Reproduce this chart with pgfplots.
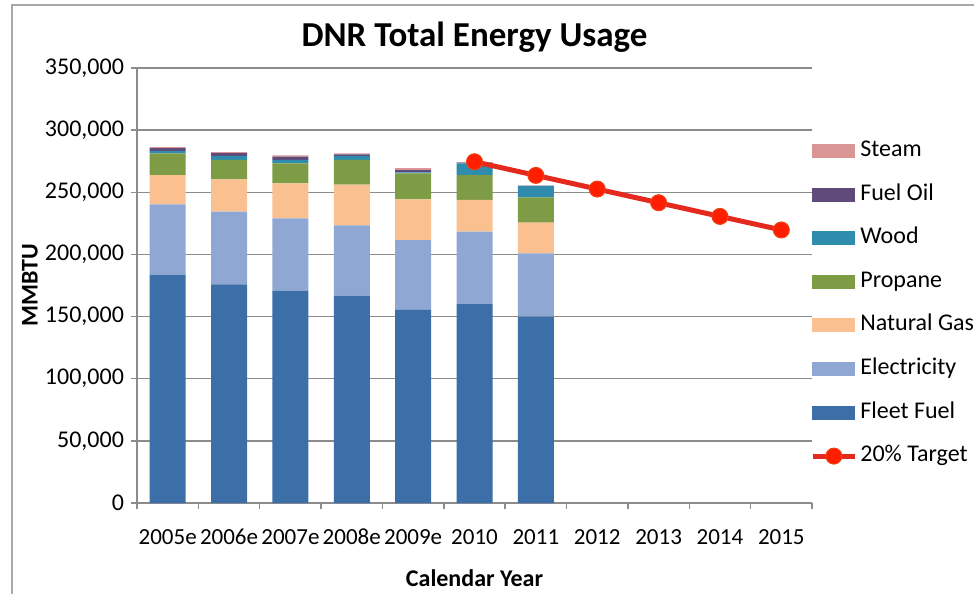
\documentclass[border=0pt]{standalone}
\usepackage{fontspec}
\setmainfont{Carlito}
\usepackage{pgfplots}
\pgfplotsset{compat=1.18}
\definecolor{fleet}{HTML}{3C6EA8}
\definecolor{elec}{HTML}{8FA7D3}
\definecolor{natgas}{HTML}{FAC090}
\definecolor{propane}{HTML}{7E9B45}
\definecolor{wood}{HTML}{2F8CAC}
\definecolor{fueloil}{HTML}{604A7B}
\definecolor{steam}{HTML}{D99694}
\definecolor{tline}{HTML}{E42A1E}
\definecolor{tmark}{HTML}{FF1E00}
\definecolor{gridgray}{HTML}{8C8C8C}
\definecolor{framegray}{HTML}{A8A8A8}
\begin{document}
\begin{tikzpicture}
\path[use as bounding box] (-68.5pt,-45.5pt) rectangle (418.5pt,251.5pt);
\draw[line width=1.2pt, framegray] (-62.5pt,-60pt) -- (-62.5pt,249pt) -- (440pt,249pt);
\begin{axis}[
  at={(0,0)}, anchor=south west,
  scale only axis, width=337.5pt, height=217.5pt,
  xmin=-0.5, xmax=10.5, ymin=0, ymax=350000,
  ybar stacked, bar width=18pt,
  axis x line*=bottom, axis y line*=left,
  axis line style={gridgray, line width=0.75pt, -},
  ymajorgrids, grid style={gridgray, line width=0.75pt},
  tick align=outside, major tick length=3pt,
  tick style={gridgray, line width=0.75pt},
  ytick={0,50000,100000,150000,200000,250000,300000,350000},
  scaled y ticks=false,
  /pgf/number format/.cd, fixed, 1000 sep={,}, assume math mode=true,
  /pgfplots/.cd,
  yticklabel style={font=\fontsize{12}{14}\selectfont, black},
  xtick={-0.5,0.5,...,10.5},
  xticklabels={,,,,,,,,,,,},
  extra x ticks={0,1,2,3,4,5,6,7,8,9,10},
  extra x tick labels={2005e,2006e,2007e,2008e,2009e,2010,2011,2012,2013,2014,2015},
  extra x tick style={major tick length=0pt, grid=none,
     xticklabel style={font=\fontsize{11.5}{14}\selectfont, black, text height=8pt, text depth=0pt, yshift=-9pt}},
  title={DNR Total Energy Usage},
  title style={font=\bfseries\fontsize{17.5}{20}\selectfont, at={(0.5,1)}, anchor=center, yshift=9.5pt},
  ylabel={MMBTU},
  ylabel style={font=\bfseries\fontsize{12}{14}\selectfont, at={(axis description cs:-0.1585,0.5)}, anchor=center, rotate=0},
  xlabel={Calendar Year},
  xlabel style={font=\bfseries\fontsize{12}{14}\selectfont, at={(axis description cs:0.5,-0.1724)}, anchor=center},
]
\addplot[fill=fleet, draw=none] coordinates {(0,183400) (1,176000) (2,170800) (3,166800) (4,155300) (5,160100) (6,149900)};
\addplot[fill=elec, draw=none] coordinates {(0,56900) (1,58400) (2,58200) (3,56600) (4,56300) (5,58200) (6,51000)};
\addplot[fill=natgas, draw=none] coordinates {(0,23600) (1,26000) (2,28200) (3,32700) (4,32700) (5,25500) (6,24600)};
\addplot[fill=propane, draw=none] coordinates {(0,17400) (1,15600) (2,16100) (3,19900) (4,20900) (5,20100) (6,20400)};
\addplot[fill=wood, draw=none] coordinates {(0,2100) (1,3200) (2,2700) (3,3200) (4,800) (5,9400) (6,9100)};
\addplot[fill=fueloil, draw=none] coordinates {(0,2200) (1,2400) (2,2600) (3,1400) (4,1900) (5,500) (6,400)};
\addplot[fill=steam, draw=none] coordinates {(0,800) (1,800) (2,1100) (3,700) (4,1600) (5,500) (6,0)};
\end{axis}
\begin{axis}[
  at={(0,0)}, anchor=south west,
  scale only axis, width=337.5pt, height=217.5pt,
  xmin=-0.5, xmax=10.5, ymin=0, ymax=350000,
  hide axis,
  legend cell align=left,
  legend style={at={(0.997,0.4586)}, anchor=west, draw=none, fill=none,
    font=\fontsize{12}{14}\selectfont, inner sep=0pt, row sep=8.3pt,
    nodes={inner sep=1.5pt, text height=8pt, text depth=2.5pt}},
]
\addlegendimage{legend image code/.code={\fill[steam] (0pt,-3.25pt) rectangle (21pt,3.25pt);}}
\addlegendentry{Steam}
\addlegendimage{legend image code/.code={\fill[fueloil] (0pt,-3.25pt) rectangle (21pt,3.25pt);}}
\addlegendentry{Fuel Oil}
\addlegendimage{legend image code/.code={\fill[wood] (0pt,-3.25pt) rectangle (21pt,3.25pt);}}
\addlegendentry{Wood}
\addlegendimage{legend image code/.code={\fill[propane] (0pt,-3.25pt) rectangle (21pt,3.25pt);}}
\addlegendentry{Propane}
\addlegendimage{legend image code/.code={\fill[natgas] (0pt,-3.25pt) rectangle (21pt,3.25pt);}}
\addlegendentry{Natural Gas}
\addlegendimage{legend image code/.code={\fill[elec] (0pt,-3.25pt) rectangle (21pt,3.25pt);}}
\addlegendentry{Electricity}
\addlegendimage{legend image code/.code={\fill[fleet] (0pt,-3.25pt) rectangle (21pt,3.25pt);}}
\addlegendentry{Fleet Fuel}
\addplot[tline, line width=2.5pt, mark=*, mark size=4pt,
  mark options={fill=tmark, draw=tline!70!orange, line width=0.5pt},
  legend image code/.code={\draw[mark repeat=2,mark phase=2] plot coordinates {(0pt,0pt) (10.5pt,0pt) (21pt,0pt)};}]
  coordinates {(5,274600) (6,263600) (7,252600) (8,241600) (9,230600) (10,219700)};
\addlegendentry{20\% Target}
\end{axis}
\end{tikzpicture}
\end{document}
